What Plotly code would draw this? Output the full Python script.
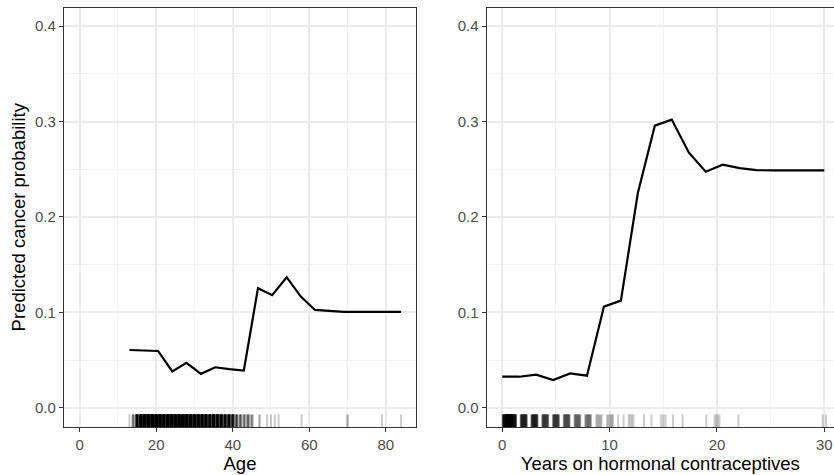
import plotly.graph_objects as go

# ---- data ----
age_grid = [13.0, 16.7, 20.5, 24.2, 27.9, 31.7, 35.4, 39.1, 42.9, 46.6,
            50.3, 54.1, 57.8, 61.5, 65.3, 69.0, 72.7, 76.5, 80.2, 84.0]
age_pred = [0.0605, 0.0600, 0.0595, 0.0380, 0.0470, 0.0355, 0.0424, 0.0405, 0.0390, 0.1253,
            0.1180, 0.1368, 0.1165, 0.1025, 0.1012, 0.1005, 0.1004, 0.1004, 0.1004, 0.1004]

hc_grid = [0.0, 1.58, 3.16, 4.74, 6.32, 7.89, 9.47, 11.05, 12.63, 14.21,
           15.79, 17.37, 18.95, 20.53, 22.11, 23.68, 25.26, 26.84, 28.42, 30.0]
hc_pred = [0.0325, 0.0325, 0.0347, 0.0290, 0.0360, 0.0336, 0.1060, 0.1123, 0.2250, 0.2956,
           0.3020, 0.2676, 0.2473, 0.2547, 0.2512, 0.2490, 0.2488, 0.2488, 0.2488, 0.2488]

# rug: observed values and how many observations sit at each
age_rug_values = [13, 14, 15, 16, 17, 18, 19, 20, 21, 22, 23, 24, 25, 26, 27, 28, 29, 30,
                  31, 32, 33, 34, 35, 36, 37, 38, 39, 40, 41, 42, 43, 44, 45,
                  47, 49, 50, 51, 52, 58, 70, 79, 84]
age_rug_counts = [1, 5, 21, 35, 40, 40, 40, 40, 39, 29, 40, 39, 39, 38, 40, 36, 34, 35,
                  33, 29, 28, 24, 29, 25, 25, 19, 20, 16, 8, 6, 5, 6, 4,
                  2, 1, 1, 1, 1, 1, 2, 1, 1]

hc_rug_values = [0.33, 0.66, 1.0, 2, 3, 4, 5, 6, 7, 8, 9, 10, 10.3, 10.8, 11.3,
                 12, 13.2, 13.9, 15, 15.9, 16.8, 19, 20, 22, 30]
hc_rug_counts = [40, 40, 40, 30, 30, 22, 22, 18, 14, 12, 6, 5, 1, 1, 1,
                 4, 1, 1, 3, 1, 1, 1, 4, 1, 2]

age_ticks = [0, 20, 40, 60, 80]
hc_ticks = [0, 10, 20, 30]
prob_ticks = [0.0, 0.1, 0.2, 0.3, 0.4]

# ---- styling constants ----
W, H = 834, 475
Y_RANGE = [-0.0202, 0.4195]
AGE_RANGE = [-4.1, 87.9]
HC_RANGE = [-1.45, 30.9]
RUG_FRAC = 0.03
JITTER = 0.3
RUG_ALPHA = 0.2
FONT = "Liberation Sans, Arial, Helvetica, sans-serif"

fig = go.Figure()

rug_lo = Y_RANGE[0]
rug_hi = Y_RANGE[0] + RUG_FRAC * (Y_RANGE[1] - Y_RANGE[0])


def add_rug(values, counts, xa, ya):
    maxc = max(counts)
    for k in range(maxc):
        xs, ys = [], []
        for v, c in zip(values, counts):
            if c > k:
                off = 0.0 if c == 1 else -JITTER + 2 * JITTER * (k + 0.5) / c
                xs += [v + off, v + off, None]
                ys += [rug_lo, rug_hi, None]
        fig.add_trace(go.Scatter(x=xs, y=ys, mode="lines", xaxis=xa, yaxis=ya,
                                 line=dict(color="black", width=2),
                                 opacity=RUG_ALPHA, hoverinfo="skip",
                                 showlegend=False))


add_rug(age_rug_values, age_rug_counts, "x", "y")
add_rug(hc_rug_values, hc_rug_counts, "x2", "y2")

fig.add_trace(go.Scatter(x=age_grid, y=age_pred, mode="lines", xaxis="x", yaxis="y",
                         line=dict(color="black", width=2.2), showlegend=False))
fig.add_trace(go.Scatter(x=hc_grid, y=hc_pred, mode="lines", xaxis="x2", yaxis="y2",
                         line=dict(color="black", width=2.2), showlegend=False))

common = dict(showline=True, linecolor="#333333", linewidth=1.3,
              ticks="outside", ticklen=4, tickwidth=1.2, tickcolor="#333333",
              tickfont=dict(family=FONT, size=15, color="#4D4D4D"),
              showgrid=True, gridcolor="#EBEBEB", gridwidth=1.8,
              zeroline=False, automargin=False)

y_dom = [(H - 427) / H, (H - 7.5) / H]

fig.update_layout(
    width=W, height=H,
    margin=dict(l=0, r=0, t=0, b=0),
    paper_bgcolor="white", plot_bgcolor="white",
    font=dict(family=FONT),
    showlegend=False,
    xaxis=dict(domain=[64 / W, 416 / W], range=AGE_RANGE, tickvals=age_ticks,
               minor=dict(dtick=10, tick0=0, showgrid=True, gridcolor="#F2F2F2",
                          gridwidth=1, ticks=""),
               mirror=True, anchor="y",
               title=dict(text="Age", font=dict(size=18.5, color="black"), standoff=3),
               **common),
    yaxis=dict(domain=y_dom, range=Y_RANGE, tickvals=prob_ticks, tickformat=".1f",
               minor=dict(dtick=0.05, tick0=0, showgrid=True, gridcolor="#F2F2F2",
                          gridwidth=1, ticks=""),
               mirror=True, anchor="x",
               title=dict(text="Predicted cancer probability",
                          font=dict(size=18.5, color="black"), standoff=4),
               **common),
    xaxis2=dict(domain=[486.7 / W, 1.0], range=HC_RANGE, tickvals=hc_ticks,
                minor=dict(dtick=5, tick0=0, showgrid=True, gridcolor="#F2F2F2",
                           gridwidth=1, ticks=""),
                mirror=True, anchor="y2",
                title=dict(text="Years on hormonal contraceptives",
                           font=dict(size=18.5, color="black"), standoff=3),
                **common),
    yaxis2=dict(domain=y_dom, range=Y_RANGE, tickvals=prob_ticks, tickformat=".1f",
                minor=dict(dtick=0.05, tick0=0, showgrid=True, gridcolor="#F2F2F2",
                           gridwidth=1, ticks=""),
                mirror=False, anchor="x2",
                **common),
)

fig.write_html("out.html",
               config={"displayModeBar": False},
               post_script="document.body.style.margin='0';document.body.style.overflow='hidden';")
